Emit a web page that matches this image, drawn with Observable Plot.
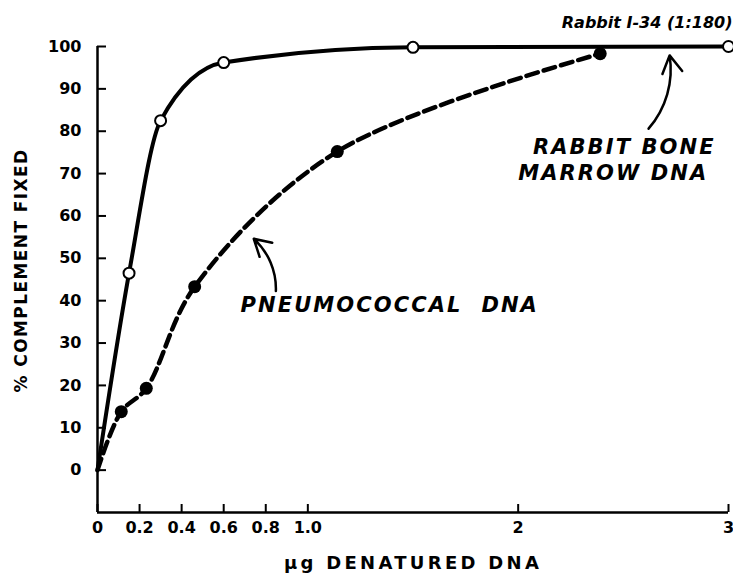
<!DOCTYPE html>
<html><head><meta charset="utf-8">
<script src="https://cdn.jsdelivr.net/npm/d3@7"></script>
<script src="https://cdn.jsdelivr.net/npm/@observablehq/plot@0.6"></script>
<style>
body{margin:0;background:#fff}
g[aria-description="anno"] text{letter-spacing:2.1px}
g[aria-description="xtitle"] text{letter-spacing:3.3px}
g[aria-description="ytitle"] text{letter-spacing:1.4px}
</style>
</head><body><div id="chart"></div>
<script>
// Rabbit bone marrow DNA (open circles, solid curve)
const marrowX = [0, 0.15, 0.30, 0.60, 1.5, 3.0];
const marrowY = [0, 46.5, 82.5, 96.2, 99.8, 100];
const marrowMarked = [false, true, true, true, true, true];
// Pneumococcal DNA (filled circles, dashed curve)
const pneumoX = [0, 0.113, 0.232, 0.462, 1.14, 2.39];
const pneumoY = [0, 13.8, 19.3, 43.3, 75.2, 98.3];
const pneumoMarked = [false, true, true, true, true, true];

const xTicks = [0, 0.2, 0.4, 0.6, 0.8, 1.0, 2, 3];
const xTickLabels = ["0", "0.2", "0.4", "0.6", "0.8", "1.0", "2", "3"];
const yTicks = [0, 10, 20, 30, 40, 50, 60, 70, 80, 90, 100];

const labelText = ["PNEUMOCOCCAL  DNA", "RABBIT BONE", "MARROW DNA"];
const labelX = [0.68, 2.07, 2.0];
const labelY = [38.8, 76.1, 70.0];

const arrowX1 = [0.848, 2.62];
const arrowY1 = [42.3, 80.6];
const arrowX2 = [0.743, 2.72];
const arrowY2 = [54.6, 97.9];

const headerText = "Rabbit I-34 (1:180)";
const xTitle = "\u00b5g DENATURED DNA";
const yTitle = "% COMPLEMENT FIXED";

const marrow = marrowX.map((x, i) => ({x, y: marrowY[i], m: marrowMarked[i]}));
const pneumo = pneumoX.map((x, i) => ({x, y: pneumoY[i], m: pneumoMarked[i]}));
const labels = labelText.map((t, i) => ({t, x: labelX[i], y: labelY[i]}));
const arrows = arrowX1.map((x1, i) => ({x1, y1: arrowY1[i], x2: arrowX2[i], y2: arrowY2[i]}));

const font = "DejaVu Sans, sans-serif";

const chart = Plot.plot({
  width: 733,
  height: 582,
  marginLeft: 97,
  marginRight: 5,
  marginTop: 46,
  marginBottom: 70,
  style: {fontFamily: font, background: "#fff", color: "#000"},
  x: {domain: [0, 3], axis: null},
  y: {domain: [-10, 100], axis: null},
  marks: [
    Plot.ruleX([0], {strokeWidth: 2.5}),
    Plot.ruleY([-10], {strokeWidth: 2.5}),
    Plot.axisY({ticks: yTicks, tickSize: -9, tickFormat: () => "", strokeWidth: 2}),
    Plot.axisY({ticks: yTicks, tickSize: 0, tickPadding: 16, fontSize: 16, fontWeight: "bold", tickFormat: d => String(d)}),
    Plot.axisX({ticks: xTicks, tickSize: -8, tickFormat: () => "", strokeWidth: 2}),
    Plot.axisX({ticks: xTicks, tickSize: 0, tickPadding: 9, fontSize: 16, fontWeight: "bold", tickFormat: d => xTickLabels[xTicks.indexOf(d)]}),
    Plot.line(marrow, {x: "x", y: "y", curve: "monotone-x", strokeWidth: 4}),
    Plot.line(pneumo, {x: "x", y: "y", curve: "catmull-rom", strokeWidth: 4.5, strokeDasharray: "12,6"}),
    Plot.dot(marrow.filter(d => d.m), {x: "x", y: "y", r: 5.5, fill: "#fff", stroke: "#000", strokeWidth: 2}),
    Plot.dot(pneumo.filter(d => d.m), {x: "x", y: "y", r: 6.5, fill: "#000", stroke: "none"}),
    Plot.text(labels, {x: "x", y: "y", text: "t", textAnchor: "start", fontSize: 21, fontWeight: "bold", fontStyle: "italic", ariaDescription: "anno"}),
    Plot.arrow(arrows, {x1: "x1", y1: "y1", x2: "x2", y2: "y2", bend: -25, strokeWidth: 2.5, headLength: 12}),
    Plot.text([headerText], {frameAnchor: "top-right", dx: 4, dy: -30, fontSize: 16, fontStyle: "italic", fontWeight: "bold", textAnchor: "end"}),
    Plot.text([xTitle], {frameAnchor: "bottom", dy: 56, fontSize: 18, fontWeight: "bold", textAnchor: "middle", ariaDescription: "xtitle"}),
    Plot.text([yTitle], {frameAnchor: "left", dx: -76, dy: -9, rotate: -90, fontSize: 17, fontWeight: "bold", textAnchor: "middle", ariaDescription: "ytitle"})
  ]
});
document.getElementById("chart").appendChild(chart);
</script>
</body></html>
